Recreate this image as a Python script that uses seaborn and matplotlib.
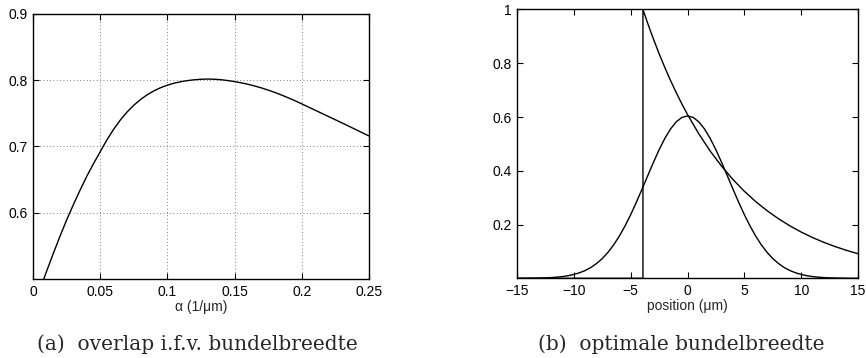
import matplotlib
matplotlib.use("Agg")
import matplotlib.pyplot as plt
import seaborn as sns

# (a) overlap as function of alpha
alpha = [0.005, 0.01, 0.015, 0.02, 0.025, 0.03, 0.035, 0.04, 0.045, 0.05,
         0.055, 0.06, 0.065, 0.07, 0.075, 0.08, 0.085, 0.09, 0.095, 0.1,
         0.105, 0.11, 0.115, 0.12, 0.125, 0.13, 0.135, 0.14, 0.145, 0.15,
         0.155, 0.16, 0.165, 0.17, 0.175, 0.18, 0.185, 0.19, 0.195, 0.2,
         0.205, 0.21, 0.215, 0.22, 0.225, 0.23, 0.235, 0.24, 0.245, 0.25]
overlap = [0.483, 0.511, 0.538, 0.564, 0.589, 0.612, 0.634, 0.655, 0.674, 0.692,
           0.710, 0.726, 0.740, 0.7521, 0.7623, 0.7709, 0.7781, 0.784, 0.7888, 0.7926,
           0.7956, 0.7978, 0.7995, 0.8007, 0.8015, 0.8018, 0.8015, 0.8008, 0.7995, 0.798,
           0.7961, 0.7939, 0.7913, 0.7884, 0.7851, 0.7815, 0.7776, 0.7734, 0.7690, 0.7643,
           0.7595, 0.7547, 0.7499, 0.7451, 0.7403, 0.7355, 0.7306, 0.7257, 0.7208, 0.7159]

# (b) optimal beam width: gaussian beam profile
pos_gauss = [-15, -14.5, -14, -13.5, -13, -12.5, -12, -11.5, -11, -10.5, -10,
             -9.5, -9, -8.5, -8, -7.5, -7, -6.5, -6, -5.5, -5, -4.5, -4,
             -3.5, -3, -2.5, -2, -1.5, -1, -0.5, 0, 0.5, 1, 1.5, 2, 2.5, 3,
             3.5, 4, 4.5, 5, 5.5, 6, 6.5, 7, 7.5, 8, 8.5, 9, 9.5, 10, 10.5,
             11, 11.5, 12, 12.5, 13, 13.5, 14, 14.5, 15]
gauss = [0.0001, 0.0002, 0.0004, 0.0007, 0.0011, 0.0017, 0.0027, 0.0043, 0.0065, 0.0097, 0.0143,
         0.0206, 0.0291, 0.0403, 0.0551, 0.0734, 0.0964, 0.1241, 0.1569, 0.1945, 0.2367, 0.2829, 0.3317,
         0.3816, 0.4311, 0.4781, 0.5200, 0.5552, 0.5818, 0.5984, 0.604, 0.5984, 0.5818, 0.5552, 0.5200, 0.4781, 0.4311,
         0.3816, 0.3317, 0.2829, 0.2367, 0.1945, 0.1569, 0.1241, 0.0964, 0.0734, 0.0551, 0.0403, 0.0291, 0.0206, 0.0143, 0.0097,
         0.0065, 0.0043, 0.0027, 0.0017, 0.0011, 0.0007, 0.0004, 0.0002, 0.0001]

# (b) exponential decay profile starting at the step
pos_exp = [-15, -3.92, -3.92, -3.5, -3, -2.5, -2, -1.5, -1, -0.5, 0, 1, 2, 3,
           4, 5, 6, 7, 8, 9, 10, 11, 12, 13, 14, 15]
exp_profile = [0, 0, 1, 0.9483, 0.8902, 0.8357, 0.7845, 0.7364, 0.6913, 0.6490, 0.6092,
               0.5369, 0.4731, 0.4169, 0.3674, 0.3238, 0.2853, 0.2515, 0.2216, 0.1953,
               0.1721, 0.1516, 0.1336, 0.1178, 0.1038, 0.0915]

sns.set_style("ticks")
plt.rcParams["font.family"] = ["Liberation Sans", "DejaVu Sans"]

fig = plt.figure(figsize=(8.66, 3.58), dpi=100)
ax1 = fig.add_axes([0.0381, 0.2207, 0.388, 0.7402])
ax2 = fig.add_axes([0.597, 0.2226, 0.3938, 0.7509])

sns.lineplot(x=alpha, y=overlap, ax=ax1, color="black", lw=1.0,
             estimator=None, sort=False)
ax1.set_xlim(0, 0.25)
ax1.set_ylim(0.5, 0.9)
ax1.set_xticks([0, 0.05, 0.1, 0.15, 0.2, 0.25])
ax1.set_xticklabels(["0", "0.05", "0.1", "0.15", "0.2", "0.25"])
ax1.set_yticks([0.6, 0.7, 0.8, 0.9])
ax1.set_yticklabels(["0.6", "0.7", "0.8", "0.9"])
ax1.grid(True, linestyle=(0, (1, 3)), color="#555555", lw=0.6)
ax1.set_xlabel("α (1/μm)", fontsize=10, labelpad=1)

sns.lineplot(x=pos_gauss, y=gauss, ax=ax2, color="black", lw=1.0,
             estimator=None, sort=False)
sns.lineplot(x=pos_exp, y=exp_profile, ax=ax2, color="black", lw=1.0,
             estimator=None, sort=False)
ax2.set_xlim(-15, 15)
ax2.set_ylim(0, 1)
ax2.set_xticks([-15, -10, -5, 0, 5, 10, 15])
ax2.set_yticks([0.2, 0.4, 0.6, 0.8, 1])
ax2.set_yticklabels(["0.2", "0.4", "0.6", "0.8", "1"])
ax2.set_xlabel("position (μm)", fontsize=10, labelpad=1)

for ax in (ax1, ax2):
    ax.set_ylabel("")
    ax.tick_params(direction="in", top=True, right=True, length=4, width=0.8,
                   labelsize=10, pad=4, colors="black")
    for sp in ax.spines.values():
        sp.set_visible(True)
        sp.set_linewidth(1.0)
        sp.set_color("black")

fig.text(0.228, 0.023, "(a)  overlap i.f.v. bundelbreedte", ha="center",
         va="baseline", fontsize=14.5, family=["DejaVu Serif"])
fig.text(0.7865, 0.023, "(b)  optimale bundelbreedte", ha="center",
         va="baseline", fontsize=14.5, family=["DejaVu Serif"])

fig.savefig("out.png", dpi=100)
